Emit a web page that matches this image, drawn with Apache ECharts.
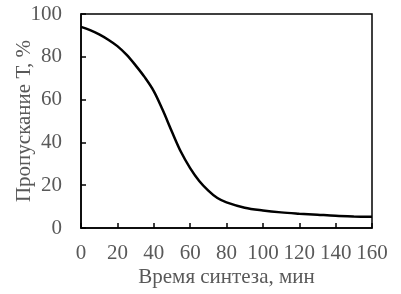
<!DOCTYPE html>
<html><head><meta charset="utf-8">
<script src="https://cdn.jsdelivr.net/npm/echarts@6/dist/echarts.min.js"></script>
<style>html,body{margin:0;padding:0;background:#fff}#c{width:401px;height:294px}</style>
</head><body><div id="c"></div>
<script>
const timeMin = [0,5,10,15,20,25,30,35,40,45,50,55,60,65,70,75,80,90,100,110,120,130,140,150,160];
const transmission = [94,92.5,90.5,88,85,81,76,70.5,64,55,45,35.5,28,22,17.5,14,12,9.5,8.2,7.3,6.7,6.2,5.7,5.4,5.2];
const xTitle = 'Время синтеза, мин';
const yTitle = 'Пропускание Т, %';

const font = 'Liberation Serif';
const txt = '#595959';
const chart = echarts.init(document.getElementById('c'));
chart.setOption({
  animation:false,
  grid:{left:81,top:14,right:29,bottom:66,show:true,borderColor:'#000',borderWidth:1.5,containLabel:false,outerBoundsMode:'none'},
  xAxis:{type:'value',min:0,max:160,interval:20,
    name:xTitle,nameLocation:'middle',nameGap:39,nameMoveOverlap:false,
    nameTextStyle:{fontFamily:font,fontSize:21,color:txt},
    axisLine:{lineStyle:{color:'#000',width:1.5}},
    axisTick:{inside:true,length:5,lineStyle:{color:'#000',width:1.5}},
    axisLabel:{fontFamily:font,fontSize:21,color:txt,margin:15},
    splitLine:{show:false}},
  yAxis:{type:'value',min:0,max:100,interval:20,
    name:yTitle,nameLocation:'middle',nameGap:46,nameMoveOverlap:false,
    nameTextStyle:{fontFamily:font,fontSize:21,color:txt},
    axisLine:{show:true,lineStyle:{color:'#000',width:1.5}},
    axisTick:{show:true,inside:true,length:5,lineStyle:{color:'#000',width:1.5}},
    axisLabel:{fontFamily:font,fontSize:21,color:txt,margin:19},
    splitLine:{show:false}},
  series:[{type:'line',data:timeMin.map((t,i)=>[t,transmission[i]]),smooth:0.35,showSymbol:false,
    lineStyle:{color:'#000',width:2.5}}]
});
</script></body></html>
